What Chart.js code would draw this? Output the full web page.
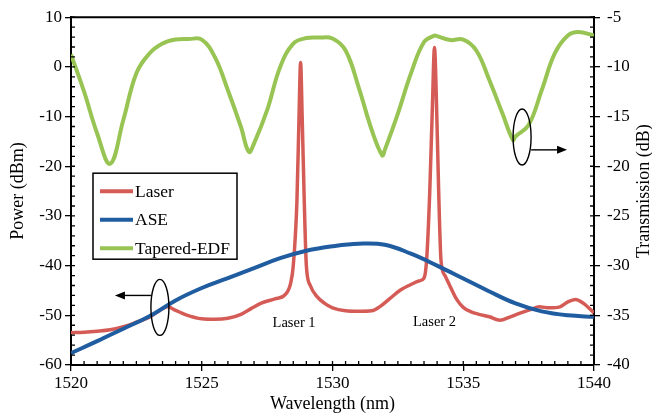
<!DOCTYPE html>
<html>
<head>
<meta charset="utf-8">
<script src="https://cdn.jsdelivr.net/npm/chart.js@4.4.1/dist/chart.umd.min.js"></script>
<style>
  html, body { margin: 0; padding: 0; background: #fff; }
  #wrap { width: 652px; height: 415px; }
</style>
</head>
<body>
<div id="wrap"><canvas id="spectrumChart" width="652" height="415"></canvas></div>
<script>
// Laser output (left axis, dBm)
const laserWl = [1520.0, 1520.5, 1521.0, 1521.5, 1522.0, 1522.5, 1523.0, 1523.4, 1523.7, 1524.0,
    1524.4, 1525.0, 1525.5, 1526.0, 1526.5, 1526.9, 1527.3, 1527.8, 1528.2, 1528.4,
    1528.5, 1528.64, 1528.72, 1528.78, 1528.84, 1528.92, 1529.0, 1529.15, 1529.4, 1529.7,
    1530.0, 1530.5, 1531.0, 1531.5, 1531.8, 1532.2, 1532.6, 1533.0, 1533.3, 1533.5,
    1533.6, 1533.72, 1533.82, 1533.9, 1533.98, 1534.06, 1534.15, 1534.3, 1534.5, 1534.75,
    1535.0, 1535.3, 1535.6, 1536.0, 1536.4, 1536.8, 1537.2, 1537.6, 1537.9, 1538.3,
    1538.7, 1539.0, 1539.3, 1539.6, 1540.0];
const laserPower = [-53.5, -53.4, -53.2, -52.9, -52.3, -51.4, -50.4, -49.0, -48.3, -49.0,
    -49.9, -50.7, -50.8, -50.6, -49.8, -48.6, -47.5, -46.7, -45.8, -43.5,
    -40, -27, -10, 0.9, -10, -27, -40, -44, -46.2, -47.6,
    -48.5, -49.1, -49.2, -49.1, -48.3, -46.6, -44.9, -43.8, -43.1, -42.5,
    -38.8, -25, -8, 3.9, -8, -25, -39, -42, -44.2, -46.8,
    -48.4, -49.3, -49.8, -50.3, -51.0, -50.3, -49.5, -48.8, -48.3, -48.5,
    -48.3, -47.3, -46.8, -47.6, -49.5];

// ASE spectrum (left axis, dBm)
const aseWl = [1520, 1521, 1522, 1523, 1524, 1525, 1526, 1527, 1528, 1529, 1530,
    1531, 1532, 1533, 1534, 1535, 1536, 1537, 1538, 1539, 1540];
const asePower = [-57.6, -55.2, -52.7, -50.2, -47.0, -44.5, -42.5, -40.5, -38.5, -37.0, -36.1,
    -35.6, -35.8, -37.6, -40.0, -42.6, -45.2, -47.6, -49.2, -50.0, -50.3];

// Tapered-EDF transmission (right axis, dB)
const edfWl = [1520.0, 1520.5, 1521.0, 1521.5, 1522.0, 1522.5, 1523.0, 1523.5, 1524.0, 1524.5,
    1525.0, 1525.5, 1526.0, 1526.5, 1526.8, 1527.0, 1527.5, 1528.0, 1528.5, 1529.0,
    1529.5, 1530.0, 1530.5, 1531.0, 1531.5, 1531.9, 1532.0, 1532.5, 1533.0, 1533.5,
    1533.9, 1534.0, 1534.5, 1535.0, 1535.5, 1536.0, 1536.5, 1536.9, 1537.0, 1537.5,
    1538.0, 1538.5, 1539.0, 1539.4, 1540.0];
const edfTransmission = [-8.75, -12.5, -16.7, -19.75, -15.35, -10.65, -8.65, -7.65, -7.25, -7.2,
    -7.25, -9.0, -12.35, -16.05, -18.55, -17.7, -14.35, -10.0, -7.65, -7.1,
    -7.05, -7.15, -8.35, -12.05, -16.35, -18.9, -18.35, -14.7, -10.65, -7.5,
    -6.85, -6.9, -7.3, -7.25, -8.35, -11.35, -14.7, -17.35, -17.0, -15.85,
    -12.35, -8.65, -6.85, -6.5, -6.85];

// annotations (data coordinates)
const laserLabels = [
    { text: 'Laser 1', x: 1528.53, y: -51.6 },
    { text: 'Laser 2', x: 1533.9, y: -51.4 }
];

const SERIF = "'Liberation Serif', 'Times New Roman', serif";

function toPoints(xs, ys) {
    return xs.map(function(x, i) { return { x: x, y: ys[i] }; });
}

const decorPlugin = {
    id: 'decor',
    afterDraw(chart) {
        const ctx = chart.ctx;
        const area = chart.chartArea;
        const xs = chart.scales.x, yl = chart.scales.y, yr = chart.scales.y2;
        ctx.save();
        ctx.strokeStyle = '#000';
        ctx.fillStyle = '#000';

        // top frame line
        ctx.lineWidth = 2;
        ctx.beginPath();
        ctx.moveTo(area.left - 1, area.top);
        ctx.lineTo(area.right + 1, area.top);
        ctx.stroke();

        // inner minor / major ticks
        ctx.lineWidth = 1.3;
        ctx.beginPath();
        for (let v = 1520; v <= 1540.001; v += 0.5) {
            const px = xs.getPixelForValue(v);
            ctx.moveTo(px, area.bottom);
            ctx.lineTo(px, area.bottom - 4);
        }
        for (let v = -60; v <= 10; v += 2) {
            const py = yl.getPixelForValue(v);
            ctx.moveTo(area.left, py);
            ctx.lineTo(area.left + 4, py);
        }
        for (let v = -40; v <= -5; v += 1) {
            const py = yr.getPixelForValue(v);
            ctx.moveTo(area.right, py);
            ctx.lineTo(area.right - 4, py);
        }
        ctx.stroke();

        // right axis title, reading bottom to top
        ctx.save();
        ctx.translate(area.right + 50, (area.top + area.bottom) / 2);
        ctx.rotate(-Math.PI / 2);
        ctx.font = '18px ' + SERIF;
        ctx.textAlign = 'center';
        ctx.textBaseline = 'middle';
        ctx.fillText('Transmission (dB)', 0, 0);
        ctx.restore();

        // laser labels
        ctx.font = '14.5px ' + SERIF;
        ctx.textAlign = 'center';
        ctx.textBaseline = 'middle';
        laserLabels.forEach(function(l) {
            ctx.fillText(l.text, xs.getPixelForValue(l.x), yl.getPixelForValue(l.y));
        });

        // axis markers: ellipse + arrow
        ctx.lineWidth = 1.4;
        function marker(cx, cy, ay, tipX) {
            const rx = 9, ry = 28;
            ctx.beginPath();
            ctx.ellipse(cx, cy, rx, ry, 0, 0, Math.PI * 2);
            ctx.stroke();
            const dir = tipX > cx ? 1 : -1;
            const startX = cx + dir * rx;
            ctx.beginPath();
            ctx.moveTo(startX, ay);
            ctx.lineTo(tipX - dir * 8, ay);
            ctx.stroke();
            ctx.beginPath();
            ctx.moveTo(tipX, ay);
            ctx.lineTo(tipX - dir * 10, ay - 4);
            ctx.lineTo(tipX - dir * 10, ay + 4);
            ctx.closePath();
            ctx.fill();
        }
        marker(xs.getPixelForValue(1523.4), yl.getPixelForValue(-48.4),
               yl.getPixelForValue(-46), xs.getPixelForValue(1521.68));
        marker(xs.getPixelForValue(1537.25), yr.getPixelForValue(-17.05),
               yr.getPixelForValue(-18.35), xs.getPixelForValue(1538.97));

        // legend box
        const bx = area.left + 22, by = area.top + 156, bw = 144, bh = 86;
        ctx.lineWidth = 1.5;
        ctx.strokeRect(bx, by, bw, bh);
        ctx.font = '17.5px ' + SERIF;
        ctx.textAlign = 'left';
        ctx.textBaseline = 'middle';
        chart.data.datasets.forEach(function(ds, i) {
            const ly = by + 18 + i * 28.5;
            ctx.strokeStyle = ds.borderColor;
            ctx.lineWidth = 4;
            ctx.beginPath();
            ctx.moveTo(bx + 7, ly);
            ctx.lineTo(bx + 40, ly);
            ctx.stroke();
            ctx.fillStyle = '#000';
            ctx.fillText(ds.label, bx + 42, ly + 1);
        });
        ctx.restore();
    }
};

document.addEventListener('DOMContentLoaded', function() {
    const ctx = document.getElementById('spectrumChart').getContext('2d');
    const tickFont = { family: SERIF, size: 17 };
    const titleFont = { family: SERIF, size: 18 };
    const plainNumber = function(value) { return String(value); };
    new Chart(ctx, {
        type: 'line',
        data: {
            datasets: [
                {
                    label: 'Laser',
                    data: toPoints(laserWl, laserPower),
                    yAxisID: 'y',
                    borderColor: 'rgb(213, 92, 86)',
                    borderWidth: 3.5,
                    pointRadius: 0,
                    cubicInterpolationMode: 'monotone',
                    order: 3
                },
                {
                    label: 'ASE',
                    data: toPoints(aseWl, asePower),
                    yAxisID: 'y',
                    borderColor: 'rgb(32, 92, 160)',
                    borderWidth: 4,
                    pointRadius: 0,
                    tension: 0.4,
                    order: 2
                },
                {
                    label: 'Tapered-EDF',
                    data: toPoints(edfWl, edfTransmission),
                    yAxisID: 'y2',
                    borderColor: 'rgb(152, 196, 84)',
                    borderWidth: 4,
                    pointRadius: 0,
                    tension: 0.4,
                    order: 1
                }
            ]
        },
        options: {
            responsive: false,
            animation: false,
            devicePixelRatio: 1,
            layout: { padding: { top: 16, left: 0, right: 0, bottom: 0 } },
            plugins: {
                legend: { display: false },
                tooltip: { enabled: false }
            },
            scales: {
                x: {
                    type: 'linear',
                    min: 1520,
                    max: 1540,
                    ticks: { stepSize: 5, font: tickFont, color: '#000', padding: 2, maxRotation: 0, callback: plainNumber },
                    grid: { drawOnChartArea: false, drawTicks: true, tickLength: 6, color: '#000', lineWidth: 1.3 },
                    border: { display: true, color: '#000', width: 2 },
                    title: { display: true, text: 'Wavelength (nm)', font: titleFont, color: '#000', padding: { top: 0, bottom: 0 } },
                    afterFit: function(scale) { scale.height = 50; }
                },
                y: {
                    position: 'left',
                    min: -60,
                    max: 10,
                    ticks: { stepSize: 10, font: tickFont, color: '#000', padding: 3, autoSkip: false, callback: plainNumber },
                    grid: { drawOnChartArea: false, drawTicks: true, tickLength: 6, color: '#000', lineWidth: 1.3 },
                    border: { display: true, color: '#000', width: 2 },
                    title: { display: true, text: 'Power (dBm)', font: titleFont, color: '#000', padding: { top: 7, bottom: 0 } },
                    afterFit: function(scale) { scale.width = 71; }
                },
                y2: {
                    position: 'right',
                    min: -40,
                    max: -5,
                    ticks: { stepSize: 5, font: tickFont, color: '#000', padding: 7, autoSkip: false, callback: plainNumber },
                    grid: { drawOnChartArea: false, drawTicks: true, tickLength: 6, color: '#000', lineWidth: 1.3 },
                    border: { display: true, color: '#000', width: 2 },
                    afterFit: function(scale) { scale.width = 58; }
                }
            }
        },
        plugins: [decorPlugin]
    });
});
</script>
</body>
</html>
